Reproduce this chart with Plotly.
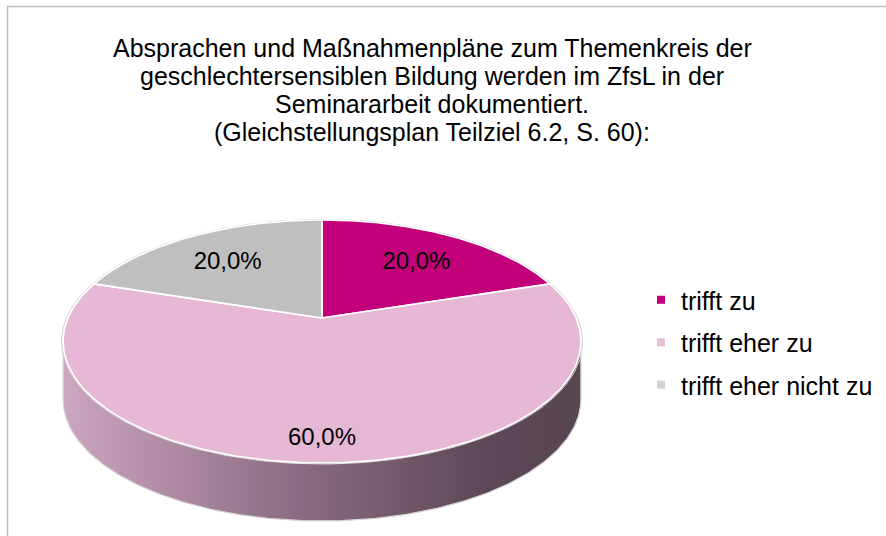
import numpy as np
import plotly.graph_objects as go

# ---------------- data ----------------
title_lines = [
    "Absprachen und Maßnahmenpläne zum Themenkreis der",
    "geschlechtersensiblen Bildung werden im ZfsL in der",
    "Seminararbeit dokumentiert.",
    "(Gleichstellungsplan Teilziel 6.2, S. 60):",
]
categories = ["trifft zu", "trifft eher zu", "trifft eher nicht zu"]
values = [20.0, 60.0, 20.0]
slice_colors = ["#C2007A", "#E7B8D6", "#BFBFBF"]
legend_colors = ["#C2007A", "#EBBDDA", "#D3D3D3"]

# ---------------- geometry (pixels) ----------------
W, H = 886, 536
CX, CY = 322, 318          # projected centre of the pie top
RX, RY = 254, 117          # projected radii
PERSP = 0.193              # perspective strength
DEPTH = 58                 # wall height
FONT = "Arial, Liberation Sans, sans-serif"


def proj(phi, r=1.0):
    X = r * np.sin(phi)
    Z = r * np.cos(phi)
    d = 1 + PERSP * Z
    return CX + RX * X / d, CY - RY * Z / d


total = sum(values)
fr = np.array(values) / total
ends = np.cumsum(fr) * 2 * np.pi
starts = ends - fr * 2 * np.pi

fig = go.Figure()

# visible front wall range
v0 = np.arccos(-PERSP)
v1 = 2 * np.pi - v0

# walls
for a0, a1, col in zip(starts, ends, slice_colors):
    lo, hi = max(a0, v0), min(a1, v1)
    if hi <= lo:
        continue
    ph = np.linspace(lo, hi, 200)
    tx, ty = proj(ph)
    xs = np.concatenate([tx, tx[::-1], tx[:1]])
    ys = np.concatenate([ty, ty[::-1] + DEPTH, ty[:1]])
    fig.add_trace(go.Scatter(
        x=xs, y=ys, mode="lines", fill="toself",
        line=dict(color="#D4D4D4", width=1.2),
        fillgradient=dict(type="horizontal",
                          colorscale=[[0, "rgb(204,165,192)"],
                                      [0.45, "rgb(140,108,130)"],
                                      [0.82, "rgb(92,72,86)"],
                                      [1, "rgb(88,69,82)"]]),
        hoverinfo="skip", showlegend=False))

# outline of the whole top
ph = np.linspace(0, 2 * np.pi, 400)
ox, oy = proj(ph, 1.006)
fig.add_trace(go.Scatter(x=ox, y=oy, mode="lines", line=dict(color="#D0D0D0", width=1),
                         hoverinfo="skip", showlegend=False))

# top faces
for a0, a1, col in zip(starts, ends, slice_colors):
    ph = np.linspace(a0, a1, 200)
    tx, ty = proj(ph)
    xs = np.concatenate([[CX], tx, [CX]])
    ys = np.concatenate([[CY], ty, [CY]])
    fig.add_trace(go.Scatter(
        x=xs, y=ys, mode="lines", fill="toself", fillcolor=col,
        line=dict(color="white", width=1.6),
        hoverinfo="skip", showlegend=False))

# data labels
top_y = proj(0.0)[1]
bot_y = proj(np.pi)[1]
cy_e = (top_y + bot_y) / 2
ry_e = (bot_y - top_y) / 2
rx_e = RX / np.sqrt(1 - PERSP ** 2)
mids = (starts + ends) / 2
lx = CX + rx_e * 0.62 * np.sin(mids)
ly = cy_e - ry_e * 0.8 * np.cos(mids)
ltxt = [f"{f * 100:.1f}%".replace(".", ",") for f in fr]
fig.add_trace(go.Scatter(x=lx, y=ly, mode="text", text=ltxt,
                         textfont=dict(family=FONT, size=24, color="black"),
                         textposition="middle center",
                         hoverinfo="skip", showlegend=False))

# legend entries
for i, (name, col) in enumerate(zip(categories, legend_colors)):
    fig.add_trace(go.Scatter(x=[None], y=[None], mode="markers", name=name,
                             legendgroup=f"g{i}",
                             marker=dict(symbol="square", size=8, color=col)))

# title lines
for i, line in enumerate(title_lines):
    fig.add_annotation(x=432, y=48 + 28 * i, xref="x", yref="y", text=line,
                       showarrow=False, xanchor="center", yanchor="middle",
                       font=dict(family=FONT, size=25, color="black"))

fig.add_shape(type="rect", x0=7.5, y0=6.5, x1=W + 20, y1=H + 20,
              xref="x", yref="y", line=dict(color="#BFBFBF", width=1.5),
              fillcolor="rgba(0,0,0,0)", layer="above")

fig.update_layout(
    width=W, height=H,
    margin=dict(l=0, r=0, t=0, b=0),
    paper_bgcolor="white", plot_bgcolor="white",
    xaxis=dict(range=[0, W], visible=False, fixedrange=True),
    yaxis=dict(range=[H, 0], visible=False, fixedrange=True),
    legend=dict(x=641 / W, y=1 - 277 / H, xanchor="left", yanchor="top",
                font=dict(family=FONT, size=25, color="black"),
                bgcolor="rgba(0,0,0,0)", tracegroupgap=7, itemclick=False),
    showlegend=True,
)

fig.write_html("out.html", config={"displayModeBar": False},
               post_script="document.body.style.margin='0';")
